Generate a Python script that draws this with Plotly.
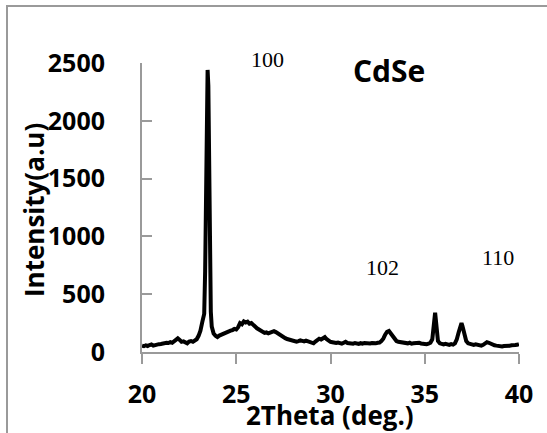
import plotly.graph_objects as go

# ---- data ----
two_theta = [
    20.0, 20.1, 20.2, 20.3, 20.4, 20.5, 20.6, 20.7, 20.8, 20.9,
    21.0, 21.1, 21.2, 21.3, 21.4, 21.5, 21.6, 21.7, 21.8, 21.9,
    22.0, 22.1, 22.2, 22.3, 22.4, 22.5, 22.6, 22.7, 22.8, 22.9,
    23.0, 23.1, 23.2, 23.3, 23.35, 23.4, 23.45, 23.48, 23.52, 23.56,
    23.6, 23.65, 23.7, 23.8, 23.9, 24.0, 24.1, 24.2, 24.3, 24.4,
    24.5, 24.6, 24.7, 24.8, 24.9, 25.0, 25.1, 25.2, 25.3, 25.4,
    25.5, 25.6, 25.7, 25.8, 25.9, 26.0, 26.1, 26.2, 26.3, 26.4,
    26.5, 26.6, 26.7, 26.8, 26.9, 27.0, 27.1, 27.2, 27.3, 27.4,
    27.5, 27.6, 27.7, 27.8, 27.9, 28.0, 28.1, 28.2, 28.3, 28.4,
    28.5, 28.6, 28.7, 28.8, 28.9, 29.0, 29.1, 29.2, 29.3, 29.4,
    29.5, 29.6, 29.7, 29.8, 29.9, 30.0, 30.1, 30.2, 30.3, 30.4,
    30.5, 30.6, 30.7, 30.8, 30.9, 31.0, 31.1, 31.2, 31.3, 31.4,
    31.5, 31.6, 31.7, 31.8, 31.9, 32.0, 32.1, 32.2, 32.3, 32.4,
    32.5, 32.6, 32.7, 32.8, 32.9, 33.0, 33.1, 33.2, 33.3, 33.4,
    33.5, 33.6, 33.7, 33.8, 33.9, 34.0, 34.1, 34.2, 34.3, 34.4,
    34.5, 34.6, 34.7, 34.8, 34.9, 35.0, 35.1, 35.2, 35.3, 35.4,
    35.45, 35.5, 35.55, 35.6, 35.65, 35.7, 35.8, 35.9, 36.0, 36.1,
    36.2, 36.3, 36.4, 36.5, 36.6, 36.7, 36.8, 36.9, 36.95, 37.0,
    37.1, 37.2, 37.3, 37.4, 37.5, 37.6, 37.7, 37.8, 37.9, 38.0,
    38.1, 38.2, 38.3, 38.4, 38.5, 38.6, 38.7, 38.8, 38.9, 39.0,
    39.1, 39.2, 39.3, 39.4, 39.5, 39.6, 39.7, 39.8, 39.9, 40.0,
]
intensity = [
    55, 50, 58, 52, 60, 65, 55, 62, 60, 68,
    70, 75, 72, 80, 78, 85, 80, 90, 100, 118,
    105, 88, 92, 80, 75, 90, 95, 88, 100, 110,
    140, 185, 260, 330, 700, 1500, 2300, 2440, 2300, 1500,
    700, 350, 220, 160, 140, 130, 142, 150, 160, 165,
    170, 175, 185, 190, 200, 195, 215, 250, 240, 265,
    255, 262, 245, 250, 230, 220, 205, 195, 180, 172,
    165, 170, 162, 168, 175, 180, 172, 160, 150, 138,
    130, 120, 112, 108, 100, 95, 98, 90, 94, 100,
    96, 92, 98, 90, 85, 80, 75, 90, 100, 115,
    108, 118, 128, 110, 95, 88, 85, 80, 78, 82,
    76, 72, 80, 88, 78, 75, 80, 72, 78, 75,
    70, 76, 72, 78, 74, 70, 74, 78, 72, 75,
    80, 82, 95, 115, 150, 175, 182, 160, 130, 110,
    95, 88, 85, 80, 82, 78, 75, 80, 72, 75,
    78, 85, 80, 74, 70, 72, 68, 72, 80, 110,
    200, 320, 340, 260, 140, 95, 75, 68, 65, 70,
    66, 62, 68, 64, 75, 110, 170, 240, 250, 225,
    140, 95, 75, 68, 65, 62, 66, 60, 58, 55,
    62, 75, 85, 80, 70, 65, 58, 55, 52, 50,
    48, 52, 50, 55, 53, 58, 55, 60, 62, 68,
]
x_ticks = [20, 25, 30, 35, 40]
y_ticks = [0, 500, 1000, 1500, 2000, 2500]
peak_labels = ["100", "102", "110"]
peak_label_px = [(267, 59), (382, 267), (498, 257)]  # pixel centres of labels

# ---- layout geometry ----
W, H = 547, 433
ML, MR, MT, MB = 142, 28, 63, 81
PW, PH = W - ML - MR, H - MT - MB


def px(xp, yp):
    return (xp - ML) / PW, (H - MB - yp) / PH


AXIS_GREY = "#9a9a9a"
SANS = "Open Sans"

fig = go.Figure()
fig.add_trace(go.Scatter(
    x=two_theta, y=intensity, mode="lines",
    line=dict(color="black", width=4),
    showlegend=False, hoverinfo="skip",
))

annotations = []
for txt, (xp, yp) in zip(peak_labels, peak_label_px):
    ax, ay = px(xp, yp)
    annotations.append(dict(
        x=ax, y=ay, xref="paper", yref="paper", text=txt, showarrow=False,
        xanchor="center", yanchor="middle",
        font=dict(family="Liberation Serif", size=22, color="black"),
    ))

cx, cy = px(389, 70)
annotations.append(dict(
    x=cx, y=cy, xref="paper", yref="paper", text="CdSe", showarrow=False,
    xanchor="center", yanchor="middle",
    font=dict(family=SANS, size=30, color="black", weight=700),
))
tx, ty = px(330, 415)
annotations.append(dict(
    x=tx, y=ty, xref="paper", yref="paper", text="2Theta (deg.)", showarrow=False,
    xanchor="center", yanchor="middle",
    font=dict(family=SANS, size=26, color="black", weight=700),
))
yx, yy = px(34, 210)
annotations.append(dict(
    x=yx, y=yy, xref="paper", yref="paper", text="Intensity(a.u)", showarrow=False,
    xanchor="center", yanchor="middle", textangle=-90,
    font=dict(family=SANS, size=26, color="black", weight=700),
))

# outer frame: only its left and top edges fall inside the picture
fx0, fy0 = px(7, 6)
fx1, fy1 = px(W + 20, H + 20)
shapes = [
    dict(type="rect", xref="paper", yref="paper",
         x0=fx0, x1=fx1, y0=fy1, y1=fy0,
         line=dict(color=AXIS_GREY, width=2), fillcolor="rgba(0,0,0,0)",
         layer="above"),
]

fig.update_layout(
    width=W, height=H,
    margin=dict(l=ML, r=MR, t=MT, b=MB, pad=0),
    paper_bgcolor="white", plot_bgcolor="white",
    annotations=annotations, shapes=shapes,
    xaxis=dict(
        range=[20, 40], tickvals=x_ticks, ticktext=[str(v) for v in x_ticks],
        showgrid=False, zeroline=False, showline=True,
        linecolor=AXIS_GREY, linewidth=2,
        ticks="outside", ticklen=10, tickwidth=2, tickcolor=AXIS_GREY,
        tickfont=dict(family=SANS, size=25, color="black", weight=700),
        ticklabelstandoff=9,
    ),
    yaxis=dict(
        range=[0, 2500], tickvals=y_ticks, ticktext=[str(v) for v in y_ticks],
        showgrid=False, zeroline=False, showline=True,
        linecolor=AXIS_GREY, linewidth=2,
        ticks="inside", ticklen=10, tickwidth=2, tickcolor=AXIS_GREY,
        tickfont=dict(family=SANS, size=25, color="black", weight=700),
        ticklabelstandoff=30,
    ),
)

post_js = (
    "document.body.style.margin='0px';"
    "document.body.style.overflow='hidden';"
    "var fr=document.createElement('div');"
    "fr.style.cssText='position:absolute;left:6px;top:5px;width:539px;height:426px;"
    "border-left:2px solid #9a9a9a;border-top:2px solid #9a9a9a;"
    "pointer-events:none;box-sizing:content-box;';"
    "document.body.appendChild(fr);"
)

fig.write_html(
    "out.html",
    config={"displayModeBar": False},
    post_script=post_js,
)
